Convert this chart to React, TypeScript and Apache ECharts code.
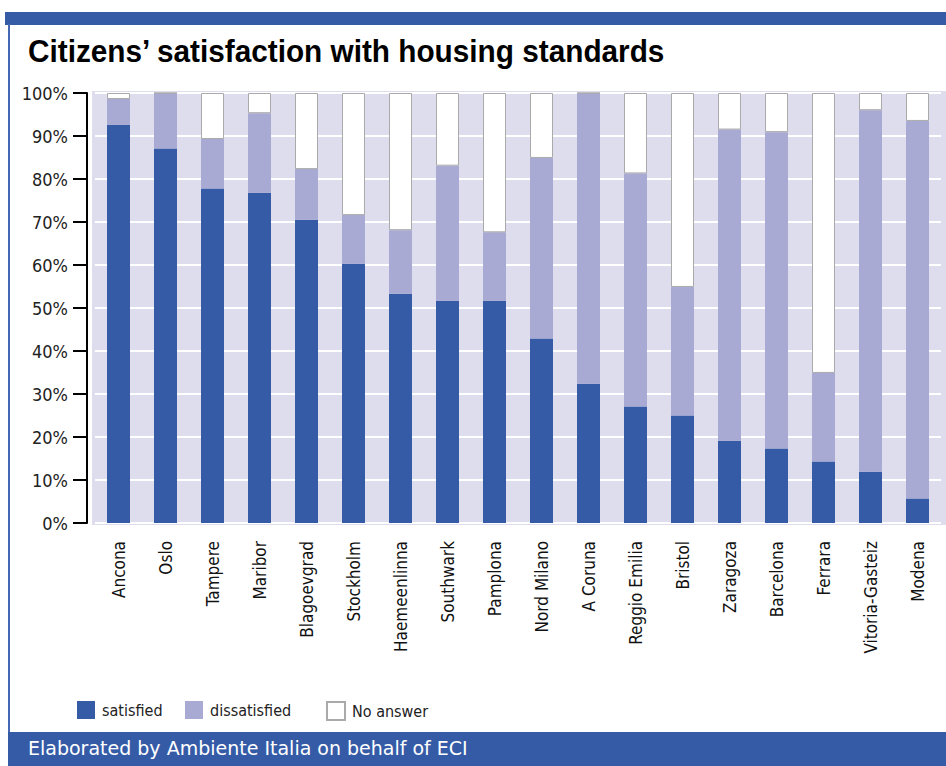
import React, { useEffect, useRef } from "react";
import * as echarts from "echarts";

const categories = [
  "Ancona", "Oslo", "Tampere", "Maribor", "Blagoevgrad", "Stockholm", "Haemeenlinna",
  "Southwark", "Pamplona", "Nord Milano", "A Coruna", "Reggio Emilia", "Bristol",
  "Zaragoza", "Barcelona", "Ferrara", "Vitoria-Gasteiz", "Modena",
];
const satisfied = [92.6, 87.1, 77.8, 76.8, 70.5, 60.3, 53.3, 51.7, 51.7, 42.9, 32.4, 27.1, 25.0, 19.1, 17.3, 14.3, 11.9, 5.7];
const dissatisfied = [6.0, 12.9, 11.5, 18.5, 11.8, 11.3, 14.8, 31.4, 15.9, 42.0, 67.6, 54.2, 29.9, 72.4, 73.6, 20.6, 84.1, 87.8];
const noAnswer = [1.4, 0, 10.7, 4.7, 17.7, 28.4, 31.9, 16.9, 32.4, 15.1, 0, 18.7, 45.1, 8.5, 9.1, 65.1, 4.0, 6.5];
const yTicks = { min: 0, max: 100, interval: 10 };

const COND = "'DejaVu Sans Condensed', 'Liberation Sans', sans-serif";
const BLUE = "#355BA7";
const LIGHT = "#A8AAD3";
const BG = "#DEDDEE";

export default function App() {
  const ref = useRef<HTMLDivElement>(null);
  useEffect(() => {
    const chart = echarts.init(ref.current!, null, { renderer: "svg" });
    chart.setOption({
      animation: false,
      backgroundColor: "#ffffff",
      grid: { left: 95, right: 5, top: 93, bottom: 243, containLabel: false },
      graphic: [
        { type: "rect", z: -10, shape: { x: 5, y: 12, width: 941, height: 13 }, style: { fill: BLUE } },
        { type: "rect", z: -10, shape: { x: 8, y: 24, width: 2, height: 710 }, style: { fill: "#4468B4" } },
        { type: "rect", z: -10, shape: { x: 8, y: 732, width: 938, height: 34 }, style: { fill: BLUE } },
        { type: "rect", z: -10, shape: { x: 92, y: 91, width: 854, height: 434 }, style: { fill: BG } },
        {
          type: "text", x: 28, y: 35, scaleX: 0.96, scaleY: 1,
          style: { text: "Citizens\u2019 satisfaction with housing standards", fill: "#000", font: "bold 31px 'Liberation Sans', Arial, sans-serif" },
        },
        {
          type: "text", x: 28, y: 738,
          style: { text: "Elaborated by Ambiente Italia on behalf of ECI", fill: "#ffffff", font: "19px 'DejaVu Sans', Verdana, sans-serif" },
        },
      ],
      legend: [
        { data: ["satisfied"], left: 72, top: 696 },
        { data: ["dissatisfied"], left: 180, top: 696 },
        { data: ["No answer"], left: 321, top: 696 },
      ].map((l) => ({
        ...l,
        orient: "horizontal",
        icon: "rect",
        itemWidth: 18,
        itemHeight: 18,
        itemGap: 8,
        selectedMode: false,
        textStyle: { fontFamily: COND, fontSize: 16, color: "#222", padding: [0, 0, 0, 2] },
      })),
      xAxis: {
        type: "category",
        data: categories,
        axisLine: { show: false },
        axisTick: { show: false },
        axisLabel: { rotate: 90, margin: 18, interval: 0, fontFamily: COND, fontSize: 17, color: "#111" },
      },
      yAxis: {
        type: "value",
        min: yTicks.min,
        max: yTicks.max,
        interval: yTicks.interval,
        offset: 8,
        axisLine: { show: true, lineStyle: { color: "#000", width: 2 } },
        axisTick: { show: true, inside: false, length: 14, lineStyle: { color: "#000", width: 2 } },
        axisLabel: { formatter: "{value}%", margin: 19, fontFamily: COND, fontSize: 18, color: "#222" },
        splitLine: { show: true, lineStyle: { color: "#ffffff", width: 2 } },
      },
      series: [
        { name: "satisfied", type: "bar", stack: "s", data: satisfied, barWidth: 23, itemStyle: { color: BLUE } },
        { name: "dissatisfied", type: "bar", stack: "s", data: dissatisfied, barWidth: 23, itemStyle: { color: LIGHT } },
        {
          name: "No answer", type: "bar", stack: "s", data: noAnswer, barWidth: 23,
          itemStyle: { color: "#ffffff", borderColor: "#aaaaaa", borderWidth: 1 },
        },
      ],
    });
    return () => chart.dispose();
  }, []);
  return <div ref={ref} style={{ position: "fixed", left: 0, top: 0, width: 946, height: 766 }} />;
}
